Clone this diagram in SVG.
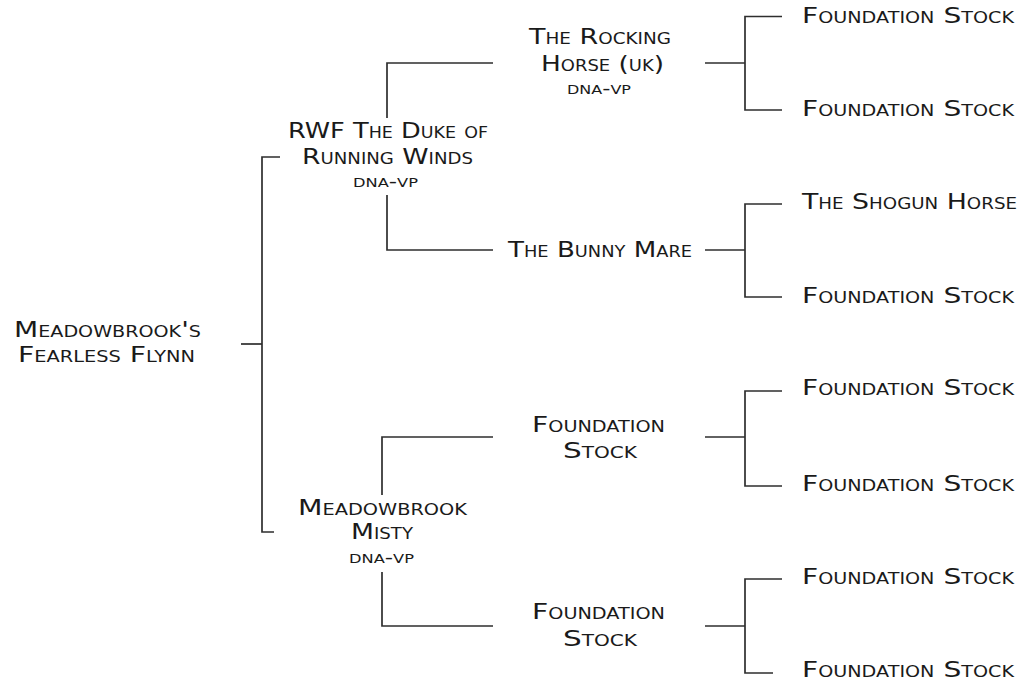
<svg xmlns="http://www.w3.org/2000/svg" width="1020" height="684" viewBox="0 0 1020 684">
<style>
text{font-family:"DejaVu Sans","Liberation Sans",sans-serif;font-size:22px;font-variant:small-caps;fill:#1a1a1a;}
.c{text-anchor:middle;}
.s{font-size:17px;}
.l{text-anchor:start;}
#connectors path{fill:none;stroke:#2e2e2e;stroke-width:1.7;}
</style>
<rect width="1020" height="684" fill="#fff"/>
<g id="connectors">
<path d="M241,344 H262"/><path d="M280,157 H262 V532 H274"/>
<path d="M493,63 H387 V118"/><path d="M387,195 V250 H493"/>
<path d="M705,63 H745"/><path d="M782,16.5 H745 V110 H782"/>
<path d="M705,250 H745"/><path d="M782,204 H745 V297 H782"/>
<path d="M493,437 H382 V495"/><path d="M382,572 V626 H493"/>
<path d="M705,437 H745"/><path d="M782,391 H745 V486 H782"/>
<path d="M705,626 H745"/><path d="M782,579 H745 V673 H773"/>
</g>
<g id="n-root">
<text class="c" x="107.5" y="337" textLength="187" lengthAdjust="spacingAndGlyphs">Meadowbrook's</text>
<text class="c" x="106.5" y="362" textLength="177" lengthAdjust="spacingAndGlyphs">Fearless Flynn</text>
</g>
<g id="n-duke">
<text class="c" x="388" y="138" textLength="200" lengthAdjust="spacingAndGlyphs">RWF The Duke of</text>
<text class="c" x="387.5" y="164" textLength="171" lengthAdjust="spacingAndGlyphs">Running Winds</text>
<text class="c s" x="385.5" y="187" textLength="65" lengthAdjust="spacingAndGlyphs">dna-vp</text>
</g>
<g id="n-rocking">
<text class="c" x="600" y="44" textLength="142" lengthAdjust="spacingAndGlyphs">The Rocking</text>
<text class="c" x="602.5" y="71" textLength="123" lengthAdjust="spacingAndGlyphs">Horse (uk)</text>
<text class="c s" x="599" y="94" textLength="64" lengthAdjust="spacingAndGlyphs">dna-vp</text>
</g>
<g id="n-bunny">
<text class="c" x="600" y="257" textLength="184" lengthAdjust="spacingAndGlyphs">The Bunny Mare</text>
</g>
<g id="n-misty">
<text class="c" x="382.5" y="515" textLength="169" lengthAdjust="spacingAndGlyphs">Meadowbrook</text>
<text class="c" x="382" y="539" textLength="62" lengthAdjust="spacingAndGlyphs">Misty</text>
<text class="c s" x="381.5" y="563" textLength="65" lengthAdjust="spacingAndGlyphs">dna-vp</text>
</g>
<g id="n-fs1">
<text class="c" x="598.5" y="432" textLength="133" lengthAdjust="spacingAndGlyphs">Foundation</text>
<text class="c" x="600" y="458" textLength="74" lengthAdjust="spacingAndGlyphs">Stock</text>
</g>
<g id="n-fs2">
<text class="c" x="598.5" y="619" textLength="133" lengthAdjust="spacingAndGlyphs">Foundation</text>
<text class="c" x="600" y="646" textLength="74" lengthAdjust="spacingAndGlyphs">Stock</text>
</g>
<g id="n-leaf1"><text class="l" x="802" y="23" textLength="212" lengthAdjust="spacingAndGlyphs">Foundation Stock</text></g>
<g id="n-leaf2"><text class="l" x="802" y="116" textLength="212" lengthAdjust="spacingAndGlyphs">Foundation Stock</text></g>
<g id="n-leaf3"><text class="l" x="802" y="209" textLength="215" lengthAdjust="spacingAndGlyphs">The Shogun Horse</text></g>
<g id="n-leaf4"><text class="l" x="802" y="303" textLength="212" lengthAdjust="spacingAndGlyphs">Foundation Stock</text></g>
<g id="n-leaf5"><text class="l" x="802" y="395" textLength="212" lengthAdjust="spacingAndGlyphs">Foundation Stock</text></g>
<g id="n-leaf6"><text class="l" x="802" y="491" textLength="212" lengthAdjust="spacingAndGlyphs">Foundation Stock</text></g>
<g id="n-leaf7"><text class="l" x="802" y="584" textLength="212" lengthAdjust="spacingAndGlyphs">Foundation Stock</text></g>
<g id="n-leaf8"><text class="l" x="802" y="677" textLength="212" lengthAdjust="spacingAndGlyphs">Foundation Stock</text></g>
</svg>
